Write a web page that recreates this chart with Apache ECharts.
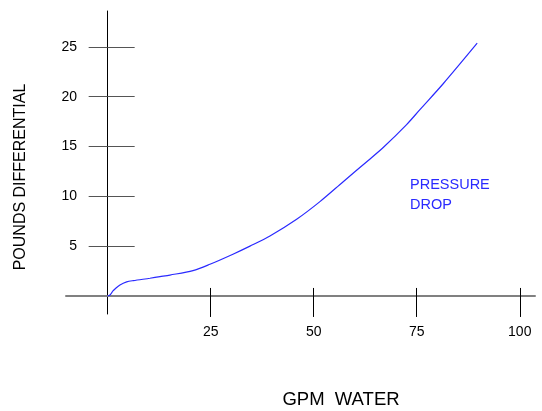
<!DOCTYPE html>
<html>
<head>
<meta charset="utf-8">
<script src="https://cdn.jsdelivr.net/npm/echarts@6/dist/echarts.min.js"></script>
<style>html,body{margin:0;padding:0;background:#fff}#c{width:542px;height:411px}</style>
</head>
<body>
<div id="c"></div>
<script>
// Data
const gpm = [0, 0.56, 1.29, 1.77, 2.98, 4.61, 6.21, 10.26, 12.69, 15.12, 20.7, 24.82, 30.4, 34.53, 39.38, 45.86, 51.51, 57.16, 63.23, 66.87, 72.54, 75.77, 81.42, 89.67];
const pressure = [0, 0.10, 0.50, 0.70, 1.10, 1.41, 1.54, 1.78, 1.94, 2.10, 2.54, 3.18, 4.19, 5.0, 6.02, 7.7, 9.47, 11.47, 13.6, 14.9, 17.2, 18.7, 21.3, 25.37];
const xTicks = [25, 50, 75, 100];
const yTicks = [5, 10, 15, 20, 25];
const xTitle = 'GPM  WATER';
const yTitle = 'POUNDS DIFFERENTIAL';
const seriesLabel = 'PRESSURE\nDROP';

const FONT = 'Liberation Sans, Arial, sans-serif';
const xMin = -10.11, xMax = 103.7;
const yMin = -1.81, yMax = 28.6;

const chart = echarts.init(document.getElementById('c'), null, {renderer: 'canvas'});
chart.setOption({
  animation: false,
  backgroundColor: '#fff',
  grid: {left: 66, right: 7, top: 11, bottom: 97, containLabel: false},
  xAxis: [
    {
      type: 'value', min: xMin, max: xMax, position: 'bottom',
      axisLine: {show: true, onZero: true, lineStyle: {color: '#808080', width: 2}},
      axisTick: {show: true, length: 21, customValues: xTicks, lineStyle: {color: '#000', width: 1}},
      axisLabel: {show: true, customValues: xTicks, margin: 11, color: '#000', fontSize: 14, fontFamily: FONT},
      splitLine: {show: false}
    },
    {
      type: 'value', min: xMin, max: xMax, position: 'top',
      axisLine: {show: false, onZero: true},
      axisTick: {show: true, length: 8, customValues: xTicks, lineStyle: {color: '#000', width: 1}},
      axisLabel: {show: false},
      splitLine: {show: false}
    }
  ],
  yAxis: [
    {
      type: 'value', min: yMin, max: yMax, position: 'left',
      axisLine: {show: true, onZero: true, lineStyle: {color: '#000', width: 1}},
      axisTick: {show: true, length: 19, customValues: yTicks, lineStyle: {color: '#555', width: 1}},
      axisLabel: {show: true, customValues: yTicks, margin: -11, color: '#000', fontSize: 14, fontFamily: FONT},
      splitLine: {show: false}
    },
    {
      type: 'value', min: yMin, max: yMax, position: 'right',
      axisLine: {show: false, onZero: true},
      axisTick: {show: true, length: 27, customValues: yTicks, lineStyle: {color: '#555', width: 1}},
      axisLabel: {show: false},
      splitLine: {show: false}
    }
  ],
  series: [{
    type: 'line',
    xAxisIndex: 0, yAxisIndex: 0,
    data: gpm.map((g, i) => [g, pressure[i]]),
    smooth: 0.3,
    showSymbol: false,
    lineStyle: {color: '#2a2aff', width: 1.2}
  }],
  graphic: [
    {type: 'text', left: 410, top: 175, style: {text: seriesLabel, fill: '#2a2aff', font: '14.5px ' + FONT, lineHeight: 20}},
    {type: 'text', x: 341, y: 400, style: {text: xTitle, fill: '#000', font: '18.5px ' + FONT, align: 'center', verticalAlign: 'middle'}},
    {type: 'text', x: 21, y: 177, rotation: Math.PI / 2, style: {text: yTitle, fill: '#000', font: '16px ' + FONT, align: 'center', verticalAlign: 'middle'}}
  ]
});
</script>
</body>
</html>
